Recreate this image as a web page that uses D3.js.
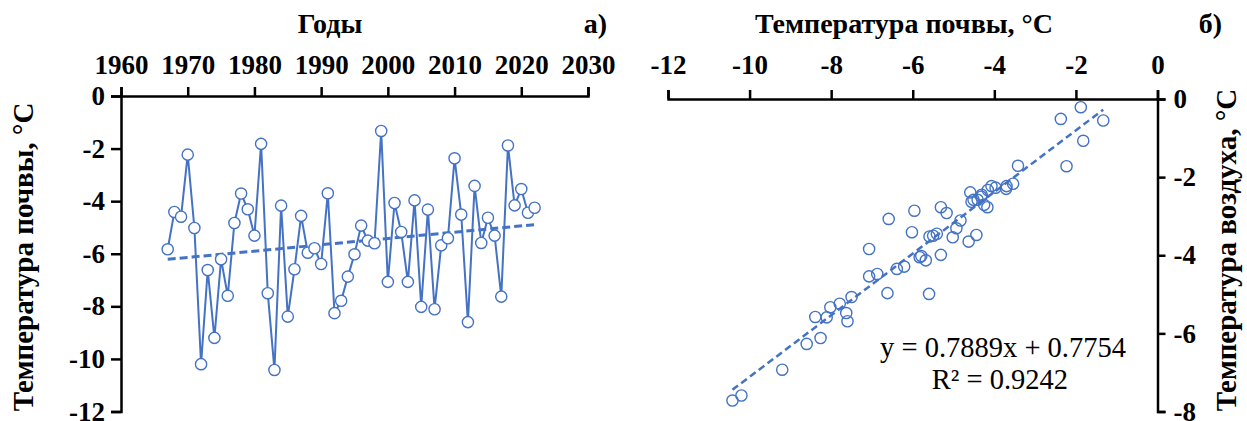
<!DOCTYPE html>
<html>
<head>
<meta charset="utf-8">
<script src="https://cdn.jsdelivr.net/npm/d3@7"></script>
<style>
  body { margin: 0; background: #fff; }
  svg text { font-family: "Liberation Serif", "Times New Roman", serif; fill: #000; }
</style>
</head>
<body>
<svg id="chart" width="1247" height="421"></svg>
<script>
// years of observation
const years = [1967, 1968, 1969, 1970, 1971, 1972, 1973, 1974, 1975, 1976,
  1977, 1978, 1979, 1980, 1981, 1982, 1983, 1984, 1985, 1986,
  1987, 1988, 1989, 1990, 1991, 1992, 1993, 1994, 1995, 1996,
  1997, 1998, 1999, 2000, 2001, 2002, 2003, 2004, 2005, 2006,
  2007, 2008, 2009, 2010, 2011, 2012, 2013, 2014, 2015, 2016,
  2017, 2018, 2019, 2020, 2021, 2022];

// soil temperature, °C
const soilTemp = [-5.83, -4.41, -4.59, -2.23, -5.02, -10.2, -6.62, -9.2, -6.21, -7.6,
  -4.83, -3.71, -4.31, -5.31, -1.82, -7.5, -10.42, -4.17, -8.39, -6.59,
  -4.56, -5.96, -5.79, -6.39, -3.7, -8.26, -7.79, -6.87, -6.02, -4.93,
  -5.5, -5.6, -1.33, -7.07, -4.07, -5.17, -7.07, -3.97, -8.02, -4.32,
  -8.11, -5.68, -5.41, -2.37, -4.51, -8.6, -3.42, -5.59, -4.63, -5.31,
  -7.63, -1.88, -4.16, -3.54, -4.44, -4.25];

// air temperature, °C
const airTemp = [-4.05, -2.58, -2.39, -1.72, -3.54, -7.59, -4.97, -6.93, -4.29, -5.69,
  -3.11, -2.3, -2.45, -2.77, -1.07, -5.07, -7.72, -2.77, -5.58, -3.07,
  -2.63, -2.86, -4.02, -4.35, -2.23, -6.12, -5.24, -4.48, -3.41, -3.31,
  -3.5, -4.99, -0.55, -4.54, -2.23, -2.92, -3.84, -2.27, -5.33, -2.5,
  -5.59, -4.13, -3.45, -0.51, -2.58, -6.27, -1.71, -3.52, -3.65, -3.99,
  -5.48, -0.21, -2.33, -2.17, -3.48, -2.71];

const yearTicks = [1960, 1970, 1980, 1990, 2000, 2010, 2020, 2030];
const soilTicks = [0, -2, -4, -6, -8, -10, -12];
const soilXTicks = [-12, -10, -8, -6, -4, -2, 0];
const airTicks = [0, -2, -4, -6, -8];

// trend shown on panel б)
const fitSlope = 0.7889;
const fitIntercept = 0.7754;
const fitR2 = "0.9242";

const blue = "#4472C4";
const svg = d3.select("#chart");

function styleAxis(g) {
  g.select(".domain").attr("stroke", "#000").attr("stroke-width", 2.5);
  g.selectAll(".tick line").attr("stroke", "#000").attr("stroke-width", 2.5);
  g.selectAll(".tick text")
    .attr("font-size", 27)
    .attr("font-weight", "bold");
}

// ---------- panel а) ----------
const xYear = d3.scaleLinear().domain([1960, 2030]).range([121, 588]);
const ySoil = d3.scaleLinear().domain([-12, 0]).range([411.5, 96]);

svg.append("g")
  .attr("transform", "translate(0,96)")
  .call(d3.axisTop(xYear).tickValues(yearTicks).tickFormat(d3.format("d"))
    .tickSize(9).tickSizeOuter(9).tickPadding(13))
  .call(styleAxis);

svg.append("g")
  .attr("transform", "translate(121,0)")
  .call(d3.axisLeft(ySoil).tickValues(soilTicks).tickFormat((d) => d)
    .tickSize(10).tickSizeOuter(10).tickPadding(6))
  .call(styleAxis);

// linear trend, least squares over the years
const mx = d3.mean(years), my = d3.mean(soilTemp);
const slope = d3.sum(years, (d, i) => (d - mx) * (soilTemp[i] - my)) /
  d3.sum(years, (d) => (d - mx) * (d - mx));
const icpt = my - slope * mx;
const yEnds = d3.extent(years);

svg.append("path")
  .datum(years.map((d, i) => [d, soilTemp[i]]))
  .attr("fill", "none")
  .attr("stroke", blue)
  .attr("stroke-width", 2)
  .attr("d", d3.line().x((d) => xYear(d[0])).y((d) => ySoil(d[1])));

svg.append("line")
  .attr("x1", xYear(yEnds[0])).attr("y1", ySoil(icpt + slope * yEnds[0]))
  .attr("x2", xYear(yEnds[1])).attr("y2", ySoil(icpt + slope * yEnds[1]))
  .attr("stroke", blue).attr("stroke-width", 3)
  .attr("stroke-dasharray", "8,4");

svg.append("g").selectAll("circle")
  .data(years)
  .join("circle")
  .attr("cx", (d) => xYear(d))
  .attr("cy", (d, i) => ySoil(soilTemp[i]))
  .attr("r", 5.6)
  .attr("fill", "#fff")
  .attr("stroke", blue)
  .attr("stroke-width", 1.4);

svg.append("text")
  .attr("x", 330).attr("y", 33)
  .attr("text-anchor", "middle")
  .attr("font-size", 28).attr("font-weight", "bold")
  .text("Годы");

svg.append("text")
  .attr("x", 607).attr("y", 33)
  .attr("text-anchor", "end")
  .attr("font-size", 28).attr("font-weight", "bold")
  .text("а)");

svg.append("text")
  .attr("transform", "translate(33,257) rotate(-90)")
  .attr("text-anchor", "middle")
  .attr("font-size", 29).attr("font-weight", "bold")
  .text("Температура почвы, °С");

// ---------- panel б) ----------
const xSoil = d3.scaleLinear().domain([-12, 0]).range([668, 1157.5]);
const yAir = d3.scaleLinear().domain([-8, 0]).range([411.5, 99]);

svg.append("g")
  .attr("transform", "translate(0,99)")
  .call(d3.axisTop(xSoil).tickValues(soilXTicks).tickFormat((d) => d)
    .tickSize(9).tickSizeOuter(9).tickPadding(16))
  .call(styleAxis);

svg.append("g")
  .attr("transform", "translate(1157.5,0)")
  .call(d3.axisRight(yAir).tickValues(airTicks).tickFormat((d) => d)
    .tickSize(8).tickSizeOuter(8).tickPadding(8))
  .call(styleAxis);

const sx = d3.extent(soilTemp);
svg.append("line")
  .attr("x1", xSoil(sx[0])).attr("y1", yAir(fitSlope * sx[0] + fitIntercept))
  .attr("x2", xSoil(sx[1])).attr("y2", yAir(fitSlope * sx[1] + fitIntercept))
  .attr("stroke", blue).attr("stroke-width", 2.5)
  .attr("stroke-dasharray", "7,4");

svg.append("g").selectAll("circle")
  .data(soilTemp)
  .join("circle")
  .attr("cx", (d) => xSoil(d))
  .attr("cy", (d, i) => yAir(airTemp[i]))
  .attr("r", 5.6)
  .attr("fill", "none")
  .attr("stroke", blue)
  .attr("stroke-width", 1.4);

svg.append("text")
  .attr("x", 1126).attr("y", 357)
  .attr("text-anchor", "end")
  .attr("font-size", 28.5)
  .text(`y = ${fitSlope}x + ${fitIntercept}`);

svg.append("text")
  .attr("x", 1000).attr("y", 389)
  .attr("text-anchor", "middle")
  .attr("font-size", 28.5)
  .text(`R² = ${fitR2}`);

svg.append("text")
  .attr("x", 904).attr("y", 33)
  .attr("text-anchor", "middle")
  .attr("font-size", 28).attr("font-weight", "bold")
  .text("Температура почвы, °С");

svg.append("text")
  .attr("x", 1222).attr("y", 33)
  .attr("text-anchor", "end")
  .attr("font-size", 28).attr("font-weight", "bold")
  .text("б)");

svg.append("text")
  .attr("transform", "translate(1236,250) rotate(-90)")
  .attr("text-anchor", "middle")
  .attr("font-size", 29).attr("font-weight", "bold")
  .text("Температура воздуха, °С");
</script>
</body>
</html>
